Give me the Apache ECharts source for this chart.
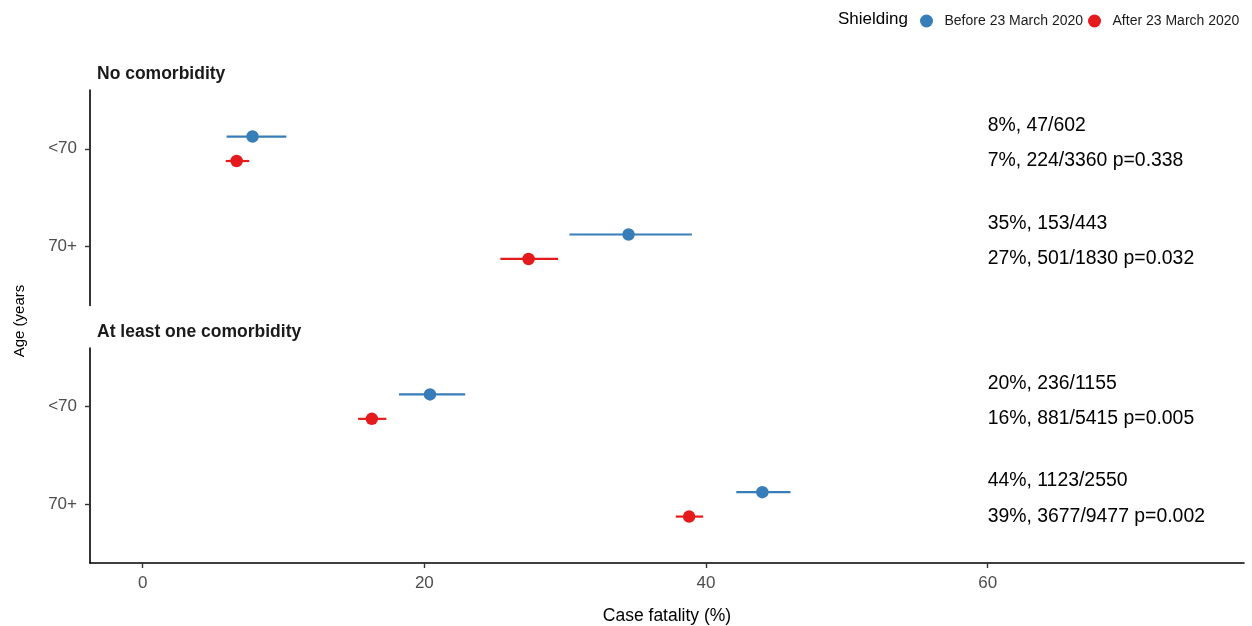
<!DOCTYPE html>
<html>
<head>
<meta charset="utf-8">
<script src="https://cdn.jsdelivr.net/npm/echarts@6/dist/echarts.min.js"></script>
<style>html,body{margin:0;padding:0;background:#fff}#c{width:1252px;height:626px}</style>
</head>
<body>
<div id="c"></div>
<script>
// ---- data ----
const panels = ['No comorbidity', 'At least one comorbidity'];
const categories = ['<70', '70+'];
// rows: panel / age category
const rowPanel = [0, 0, 1, 1];
const rowCat = [1, 2, 1, 2];
const beforeEst  = [7.8, 34.5, 20.4, 44.0];
const beforeLow  = [5.96, 30.3, 18.2, 42.15];
const beforeHigh = [10.2, 39.0, 22.9, 46.0];
const afterEst   = [6.67, 27.4, 16.27, 38.8];
const afterLow   = [5.9, 25.4, 15.3, 37.85];
const afterHigh  = [7.57, 29.5, 17.3, 39.8];
const beforeLabels = ['8%, 47/602', '35%, 153/443', '20%, 236/1155', '44%, 1123/2550'];
const afterLabels  = ['7%, 224/3360 p=0.338', '27%, 501/1830 p=0.032', '16%, 881/5415 p=0.005', '39%, 3677/9477 p=0.002'];
const xTicks = [0, 20, 40, 60];
const labelX = 60;
const seriesNames = ['Before 23 March 2020', 'After 23 March 2020'];

// ---- style ----
const FONT = "'Liberation Sans', Arial, Helvetica, sans-serif";
const BLUE = '#377EB8', RED = '#E41A1C';
const DODGE = 0.125;
const X_MIN = -3.74, X_MAX = 78.2;

const groups = [
  {name: seriesNames[0], color: BLUE, off: -DODGE, est: beforeEst, lo: beforeLow, hi: beforeHigh, lab: beforeLabels, labOff: -0.24},
  {name: seriesNames[1], color: RED, off: DODGE, est: afterEst, lo: afterLow, hi: afterHigh, lab: afterLabels, labOff: DODGE}
];

const grids = [
  {left: 90, right: 8, top: 90, height: 215.5},
  {left: 90, right: 8, top: 348, height: 215.5}
];

const xAxes = panels.map((p, i) => ({
  gridIndex: i, type: 'value', min: X_MIN, max: X_MAX,
  show: i === 1,
  name: i === 1 ? 'Case fatality (%)' : '',
  nameLocation: 'middle', nameGap: 44,
  nameTextStyle: {color: '#000', fontSize: 17.5, fontFamily: FONT},
  axisLine: {show: true, lineStyle: {color: '#000', width: 1.6}},
  axisTick: {show: true, customValues: xTicks, length: 5, lineStyle: {color: '#333', width: 1.4}},
  axisLabel: {customValues: xTicks, color: '#4d4d4d', fontSize: 17, fontFamily: FONT, margin: 12},
  splitLine: {show: false}
}));

const yAxes = panels.map((p, i) => ({
  gridIndex: i, type: 'value', min: 0.4, max: 2.6, inverse: true,
  axisLine: {show: true, onZero: false, lineStyle: {color: '#000', width: 1.6}},
  axisTick: {show: true, customValues: [1, 2], length: 5, lineStyle: {color: '#333', width: 1.4}},
  axisLabel: {customValues: [1, 2], formatter: v => categories[Math.round(v) - 1], color: '#4d4d4d', fontSize: 17, fontFamily: FONT, margin: 13},
  splitLine: {show: false}
}));

const series = [];
panels.forEach((p, pi) => {
  const idx = rowPanel.map((v, k) => v === pi ? k : -1).filter(k => k >= 0);
  groups.forEach(g => {
    // error bars
    series.push({
      type: 'custom', xAxisIndex: pi, yAxisIndex: pi, z: 2, silent: true,
      data: idx.map(k => [g.lo[k], g.hi[k], rowCat[k] + g.off]),
      renderItem: (params, api) => {
        const a = api.coord([api.value(0), api.value(2)]);
        const b = api.coord([api.value(1), api.value(2)]);
        return {type: 'line', shape: {x1: a[0], y1: a[1], x2: b[0], y2: b[1]}, style: {stroke: g.color, lineWidth: 2.2}};
      }
    });
    // points
    series.push({
      name: g.name, type: 'scatter', xAxisIndex: pi, yAxisIndex: pi, z: 3,
      symbol: 'circle', symbolSize: 12.5, itemStyle: {color: g.color, opacity: 1},
      data: idx.map(k => [g.est[k], rowCat[k] + g.off])
    });
    // text labels
    series.push({
      type: 'custom', xAxisIndex: pi, yAxisIndex: pi, z: 2, silent: true,
      data: idx.map(k => [labelX, rowCat[k] + g.labOff]),
      renderItem: (params, api) => {
        const c = api.coord([api.value(0), api.value(1)]);
        const k = idx[params.dataIndex];
        return {type: 'text', x: c[0], y: c[1], style: {text: g.lab[k], fill: '#000', font: '19.4px ' + FONT, textAlign: 'left', textVerticalAlign: 'middle'}};
      }
    });
  });
});

const chart = echarts.init(document.getElementById('c'), null, {renderer: 'canvas'});
chart.setOption({
  animation: false,
  backgroundColor: '#fff',
  grid: grids,
  xAxis: xAxes,
  yAxis: yAxes,
  legend: {
    data: seriesNames.map(n => ({name: n, icon: 'circle'})),
    left: 915, top: 9, itemWidth: 26, itemHeight: 13, itemGap: 5,
    textStyle: {fontSize: 14, color: '#1a1a1a', fontFamily: FONT}
  },
  graphic: [
    {type: 'text', left: 838, top: 11, style: {text: 'Shielding', font: '17px ' + FONT, fill: '#000'}},
    {type: 'text', left: 97, top: 65, style: {text: panels[0], font: 'bold 17.5px ' + FONT, fill: '#1a1a1a'}},
    {type: 'text', left: 97, top: 323, style: {text: panels[1], font: 'bold 17.5px ' + FONT, fill: '#1a1a1a'}},
    {type: 'text', x: 20, y: 321, rotation: Math.PI / 2, style: {text: 'Age (years', font: '15px ' + FONT, fill: '#000', textAlign: 'center', textVerticalAlign: 'middle'}}
  ],
  series: series
});
</script>
</body>
</html>
